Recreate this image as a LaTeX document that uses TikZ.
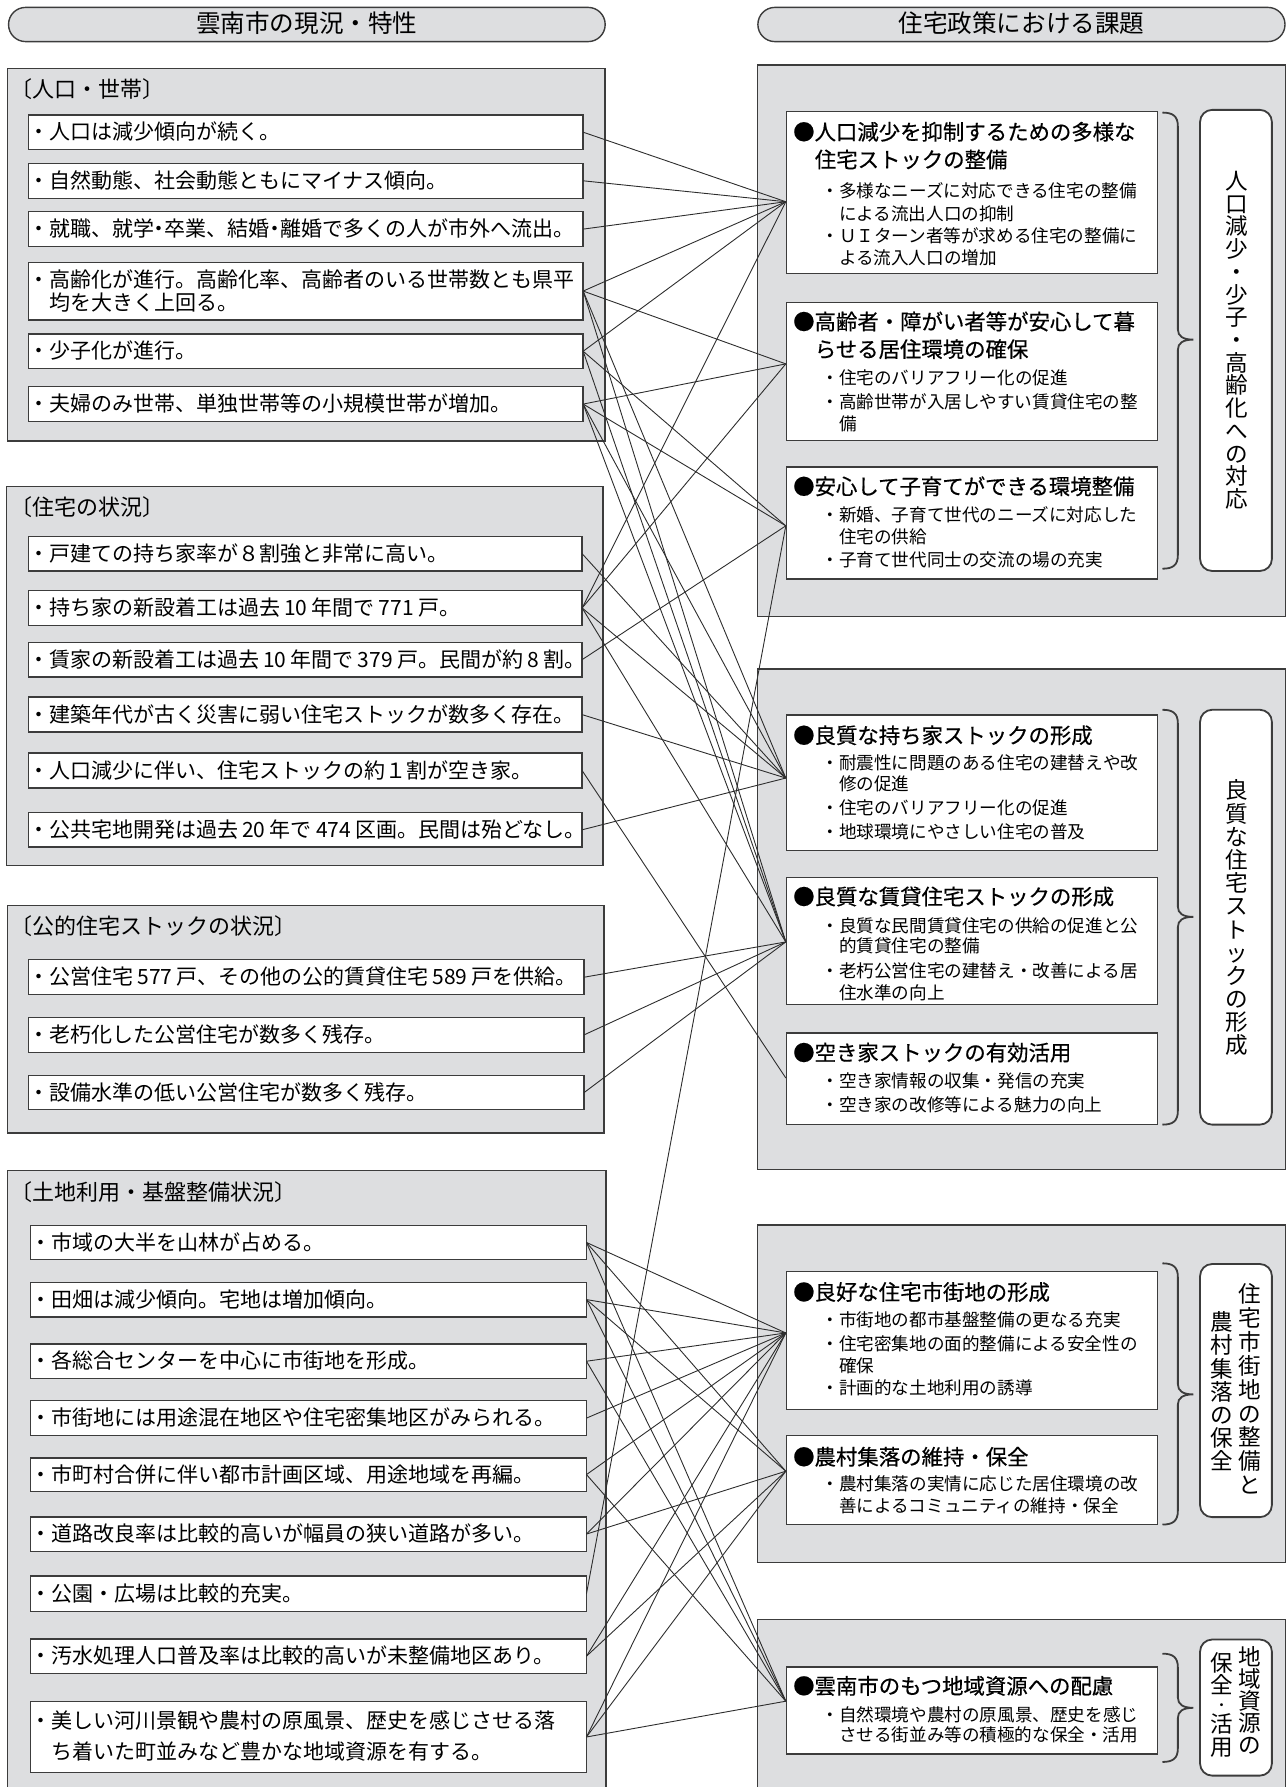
\documentclass[tikz,border=0pt]{standalone}
\usepackage{fontspec}
\setmainfont{Noto Sans CJK JP}
\newfontfamily\tfont[FakeBold=0.5]{Noto Sans CJK JP}
\usetikzlibrary{fit}
\definecolor{gp}{RGB}{221,222,224}
\definecolor{bd}{RGB}{60,60,60}
\definecolor{lc}{RGB}{45,45,45}
\newcommand\ks{\hspace{0.2em}}
\newcommand\hd{\makebox[0.5em][c]{・}}
\tikzset{
  grp/.style={draw=bd, fill=gp, line width=0.7pt, inner sep=0pt, outer sep=0pt},
  wbox/.style={draw=bd, fill=white, line width=0.7pt, inner sep=0pt, outer sep=0pt},
  pill/.style={draw=bd, fill=gp, line width=0.7pt, rounded corners=8.5pt, inner sep=0pt, outer sep=0pt},
  vbox/.style={draw=bd, fill=white, line width=0.9pt, rounded corners=6pt, inner sep=0pt, outer sep=0pt},
  tx/.style={anchor=west, inner sep=0pt, outer sep=0pt, text height=0.88em, text depth=0.12em},
  body/.style={tx, font=\fontsize{10.5}{12}\selectfont},
  lab/.style={tx, font=\fontsize{11}{13}\selectfont},
  ttl/.style={tx, font=\tfont\fontsize{10.7}{13}\selectfont},
  sub/.style={tx, font=\fontsize{8.8}{10}\selectfont},
  hdr/.style={inner sep=0pt, text height=0.88em, text depth=0.12em, font=\fontsize{12.3}{14}\selectfont},
  vch/.style={inner sep=0pt, text height=0.88em, text depth=0.12em, font=\fontsize{11.3}{12}\selectfont},
  vdot/.style={inner sep=0pt, text height=0.6em, text depth=0.1em, font=\fontsize{7}{8}\selectfont},
  con/.style={draw=lc, line width=0.45pt},
  brc/.style={draw=bd, line width=0.9pt},
}
\newcommand\mybrace[3]{\draw[brc] (1020,#1) .. controls (1029,#1) and (1033.5,#1+3) .. (1033.5,#1+12) -- (1033.5,#2-9) .. controls (1033.5,#2-3) and (1038,#2) .. (1047,#2) .. controls (1038,#2) and (1033.5,#2+3) .. (1033.5,#2+9) -- (1033.5,#3-12) .. controls (1033.5,#3-3) and (1029,#3) .. (1020,#3);}
\begin{document}
\begin{tikzpicture}[x=0.57pt,y=-0.57pt]
\useasboundingbox (0,0) rectangle (1129,1568);
\clip (0,0) rectangle (1129,1568);
% headers
\node[pill, fit={(7.5,6.5) (531,36.5)}] (hl) {};
\node[hdr] (hlt) at (hl.center) {雲南市の現況・特性};
\node[pill, fit={(665,6.5) (1127.5,36.5)}] (hr) {};
\node[hdr] (hrt) at (hr.center) {住宅政策における課題};
% ---------- left group 1
\node[grp, fit={(6.5,60) (531,387)}] (G1) {};
\node[lab] (G1l) at (9,79) {〔人口・世帯〕};
\node[wbox, fit={(25,101) (511.7,131)}] (g1a) {};
\node[wbox, fit={(25,143.3) (511.7,174)}] (g1b) {};
\node[wbox, fit={(25,185.7) (511.7,216.4)}] (g1c) {};
\node[wbox, fit={(25,230.1) (511.7,280.7)}] (g1d) {};
\node[wbox, fit={(25,293) (511.7,323.4)}] (g1e) {};
\node[wbox, fit={(25,339.2) (511.7,369.9)}] (g1f) {};
\node[body] (t1a) at (24.75,116) {・人口は減少傾向が続く。};
\node[body] (t1b) at (24.75,158.6) {・自然動態、社会動態ともにマイナス傾向。};
\node[body] (t1c) at (24.75,201) {・就職、就学\hd{}卒業、結婚\hd{}離婚で多くの人が市外へ流出。};
\node[body] (t1d) at (24.75,245.6) {・高齢化が進行。高齢化率、高齢者のいる世帯数とも県平};
\node[body] (t1d2) at (43.25,266) {均を大きく上回る。};
\node[body] (t1e) at (24.75,308.2) {・少子化が進行。};
\node[body] (t1f) at (24.75,354.5) {・夫婦のみ世帯、単独世帯等の小規模世帯が増加。};
% ---------- left group 2
\node[grp, fit={(5.5,427) (529.2,759.4)}] (G2) {};
\node[lab] (G2l) at (9,446) {〔住宅の状況〕};
\node[wbox, fit={(25,470.8) (510.8,500.9)}] (g2a) {};
\node[wbox, fit={(25,518.1) (510.8,548.8)}] (g2b) {};
\node[wbox, fit={(25,563.5) (510.8,594.1)}] (g2c) {};
\node[wbox, fit={(25,611.7) (510.8,642.4)}] (g2d) {};
\node[wbox, fit={(25,660.8) (510.8,691.5)}] (g2e) {};
\node[wbox, fit={(25,712.9) (510.8,743.3)}] (g2f) {};
\node[body] (t2a) at (24.75,485.9) {・戸建ての持ち家率が８割強と非常に高い。};
\node[body] (t2b) at (24.75,533.5) {・持ち家の新設着工は過去\ks{}10\ks{}年間で\ks{}771\ks{}戸。};
\node[body] (t2c) at (24.75,578.8) {・賃家の新設着工は過去\ks{}10\ks{}年間で\ks{}379\ks{}戸。民間が約\ks{}8\ks{}割。};
\node[body] (t2d) at (24.75,627) {・建築年代が古く災害に弱い住宅ストックが数多く存在。};
\node[body] (t2e) at (24.75,676.2) {・人口減少に伴い、住宅ストックの約１割が空き家。};
\node[body] (t2f) at (24.75,728.1) {・公共宅地開発は過去\ks{}20\ks{}年で\ks{}474\ks{}区画。民間は殆どなし。};
% ---------- left group 3
\node[grp, fit={(6.5,794.5) (530,994.2)}] (G3) {};
\node[lab] (G3l) at (9,813) {〔公的住宅ストックの状況〕};
\node[wbox, fit={(25,842.1) (512.5,872.8)}] (g3a) {};
\node[wbox, fit={(25,892.7) (512.5,923.4)}] (g3b) {};
\node[wbox, fit={(25,943.6) (512.5,973.7)}] (g3c) {};
\node[body] (t3a) at (24.75,857.5) {・公営住宅\ks{}577\ks{}戸、その他の公的賃貸住宅\ks{}589\ks{}戸を供給。};
\node[body] (t3b) at (24.75,908) {・老朽化した公営住宅が数多く残存。};
\node[body] (t3c) at (24.75,958.7) {・設備水準の低い公営住宅が数多く残存。};
% ---------- left group 4
\node[grp, fit={(6.5,1027.2) (531.6,1590)}] (G4) {};
\node[lab] (G4l) at (9,1047) {〔土地利用・基盤整備状況〕};
\node[wbox, fit={(27,1075.1) (514.6,1105.3)}] (g4a) {};
\node[wbox, fit={(27,1125.1) (514.6,1155.5)}] (g4b) {};
\node[wbox, fit={(27,1179.2) (514.6,1209.6)}] (g4c) {};
\node[wbox, fit={(27,1229) (514.6,1259.6)}] (g4d) {};
\node[wbox, fit={(27,1279.2) (514.6,1308.5)}] (g4e) {};
\node[wbox, fit={(27,1331) (514.6,1361.1)}] (g4f) {};
\node[wbox, fit={(27,1383) (514.6,1413.8)}] (g4g) {};
\node[wbox, fit={(27,1438) (514.6,1468.4)}] (g4h) {};
\node[wbox, fit={(27,1492.7) (514.6,1555.5)}] (g4i) {};
\node[body] (t4a) at (26.75,1090.2) {・市域の大半を山林が占める。};
\node[body] (t4b) at (26.75,1140.3) {・田畑は減少傾向。宅地は増加傾向。};
\node[body] (t4c) at (26.75,1194.4) {・各総合センターを中心に市街地を形成。};
\node[body] (t4d) at (26.75,1244.3) {・市街地には用途混在地区や住宅密集地区がみられる。};
\node[body] (t4e) at (26.75,1293.9) {・市町村合併に伴い都市計画区域、用途地域を再編。};
\node[body] (t4f) at (26.75,1346) {・道路改良率は比較的高いが幅員の狭い道路が多い。};
\node[body] (t4g) at (26.75,1398.4) {・公園・広場は比較的充実。};
\node[body] (t4h) at (26.75,1453.2) {・汚水処理人口普及率は比較的高いが未整備地区あり。};
\node[body] (t4i) at (26.75,1510) {・美しい河川景観や農村の原風景、歴史を感じさせる落};
\node[body] (t4i2) at (45.25,1537) {ち着いた町並みなど豊かな地域資源を有する。};
% ---------- right group 1
\node[grp, fit={(664.5,57.2) (1128,541)}] (R1) {};
\node[wbox, fit={(690,98.1) (1015.4,239.9)}] (r1a) {};
\node[wbox, fit={(690,265.2) (1015.4,386.6)}] (r1b) {};
\node[wbox, fit={(690,409.8) (1015.4,507.9)}] (r1c) {};
\node[vbox, fit={(1053,96.4) (1116,501)}] (v1) {};
\mybrace{98.8}{298}{499}
\node[ttl] (s1a1) at (696,116.1) {●人口減少を抑制するための多様な};
\node[ttl] (s1a2) at (715,140.4) {住宅ストックの整備};
\node[sub] (s1a3) at (720.8,166.4) {・多様なニーズに対応できる住宅の整備};
\node[sub] (s1a4) at (736.2,186.5) {による流出人口の抑制};
\node[sub] (s1a5) at (720.8,206.3) {・ＵＩターン者等が求める住宅の整備に};
\node[sub] (s1a6) at (736.2,225.4) {よる流入人口の増加};
\node[ttl] (s1b1) at (696,282.6) {●高齢者・障がい者等が安心して暮};
\node[ttl] (s1b2) at (715,306.8) {らせる居住環境の確保};
\node[sub] (s1b3) at (720.8,331.1) {・住宅のバリアフリー化の促進};
\node[sub] (s1b4) at (720.8,351.9) {・高齢世帯が入居しやすい賃貸住宅の整};
\node[sub] (s1b5) at (736.2,371) {備};
\node[ttl] (s1c1) at (696,427.2) {●安心して子育てができる環境整備};
\node[sub] (s1c2) at (720.8,450.7) {・新婚、子育て世代のニーズに対応した};
\node[sub] (s1c3) at (736.2,469.8) {住宅の供給};
\node[sub] (s1c4) at (720.8,490.6) {・子育て世代同士の交流の場の充実};
\foreach \c [count=\i] in {人,口,減,少,・,少,子,・,高,齢,化,へ,の,対,応}
  \node[vch] (v1c\i) at (1085,{159.5+(\i-1)*19.94}) {\c};
% ---------- right group 2
\node[grp, fit={(664.5,587.1) (1128,1026.3)}] (R2) {};
\node[wbox, fit={(690,627.2) (1015.4,746.5)}] (r2a) {};
\node[wbox, fit={(690,769.9) (1015.4,881.6)}] (r2b) {};
\node[wbox, fit={(690,906.4) (1015.4,986.8)}] (r2c) {};
\node[vbox, fit={(1053,622.8) (1116,986.8)}] (v2) {};
\mybrace{622.8}{804.5}{986.8}
\node[ttl] (s2a1) at (696,645.6) {●良質な持ち家ストックの形成};
\node[sub] (s2a2) at (720.8,668.1) {・耐震性に問題のある住宅の建替えや改};
\node[sub] (s2a3) at (736.2,687.1) {修の促進};
\node[sub] (s2a4) at (720.8,707.6) {・住宅のバリアフリー化の促進};
\node[sub] (s2a5) at (720.8,729.5) {・地球環境にやさしい住宅の普及};
\node[ttl] (s2b1) at (696,787.1) {●良質な賃貸住宅ストックの形成};
\node[sub] (s2b2) at (720.8,811.4) {・良質な民間賃貸住宅の供給の促進と公};
\node[sub] (s2b3) at (736.2,829) {的賃貸住宅の整備};
\node[sub] (s2b4) at (720.8,850.9) {・老朽公営住宅の建替え・改善による居};
\node[sub] (s2b5) at (736.2,869.9) {住水準の向上};
\node[ttl] (s2c1) at (696,924) {●空き家ストックの有効活用};
\node[sub] (s2c2) at (720.8,947.4) {・空き家情報の収集・発信の充実};
\node[sub] (s2c3) at (720.8,968.7) {・空き家の改修等による魅力の向上};
\foreach \c [count=\i] in {良,質,な,住,宅,ス,ト,ッ,ク,の,形,成}
  \node[vch] (v2c\i) at (1085,{694.4+(\i-1)*20.34}) {\c};
% ---------- right group 3
\node[grp, fit={(664.5,1075) (1128,1371)}] (R3) {};
\node[wbox, fit={(690,1115.8) (1015.4,1236.6)}] (r3a) {};
\node[wbox, fit={(690,1259.7) (1015.4,1337.7)}] (r3b) {};
\node[vbox, fit={(1053,1109.1) (1116,1331.2)}] (v3) {};
\mybrace{1108.5}{1223.5}{1337.7}
\node[ttl] (s3a1) at (696,1134.1) {●良好な住宅市街地の形成};
\node[sub] (s3a2) at (720.8,1157.1) {・市街地の都市基盤整備の更なる充実};
\node[sub] (s3a3) at (720.8,1178.4) {・住宅密集地の面的整備による安全性の};
\node[sub] (s3a4) at (736.2,1197.2) {確保};
\node[sub] (s3a5) at (720.8,1216.9) {・計画的な土地利用の誘導};
\node[ttl] (s3b1) at (696,1278.7) {●農村集落の維持・保全};
\node[sub] (s3b2) at (720.8,1301.3) {・農村集落の実情に応じた居住環境の改};
\node[sub] (s3b3) at (736.2,1320.4) {善によるコミュニティの維持・保全};
\foreach \c [count=\i] in {住,宅,市,街,地,の,整,備,と}
  \node[vch] (v3r\i) at (1097,{1136.4+(\i-1)*20.95}) {\c};
\foreach \c [count=\i] in {農,村,集,落,の,保,全}
  \node[vch] (v3l\i) at (1072,{1161+(\i-1)*20.3}) {\c};
% ---------- right group 4
\node[grp, fit={(664.5,1421) (1128,1590)}] (R4) {};
\node[wbox, fit={(690,1462.6) (1015.4,1538.9)}] (r4a) {};
\node[vbox, fit={(1053,1438.6) (1116,1558)}] (v4) {};
\mybrace{1451}{1498.5}{1546}
\node[ttl] (s4a1) at (696,1479.7) {●雲南市のもつ地域資源への配慮};
\node[sub] (s4a2) at (720.8,1503.7) {・自然環境や農村の原風景、歴史を感じ};
\node[sub] (s4a3) at (736.2,1521.8) {させる街並み等の積極的な保全・活用};
\foreach \c [count=\i] in {地,域,資,源,の}
  \node[vch] (v4r\i) at (1097,{1455.1+(\i-1)*19.3}) {\c};
\foreach \c/\y [count=\i] in {保/1460,全/1479,活/1513.6,用/1533.5}
  \node[vch] (v4l\i) at (1072,\y) {\c};
\node[vdot] (v4dot) at (1072,1496.3) {・};
% ---------- hubs
\coordinate (h1) at (689.5,177);
\coordinate (h2) at (689.5,319.3);
\coordinate (h3) at (689.5,461.4);
\coordinate (h4) at (689.5,682.7);
\coordinate (h5) at (689.5,826.5);
\coordinate (h6) at (689.5,945.9);
\coordinate (h7) at (689.5,1169.6);
\coordinate (h8) at (689.5,1290.9);
\coordinate (h9) at (689.5,1492.7);
% ---------- connectors
\foreach \a/\b in {g1a/h1,g1b/h1,g1c/h1,g1d/h1,g1e/h1,g2b/h1,
  g1d/h2,g1f/h2,g2b/h2,
  g1e/h3,g1f/h3,g2c/h3,g4g/h3,
  g1d/h4,g1f/h4,g2a/h4,g2b/h4,g2d/h4,g2f/h4,
  g1d/h5,g1e/h5,g1f/h5,g2b/h5,g3a/h5,g3b/h5,g3c/h5,
  g2e/h6,
  g4a/h7,g4b/h7,g4c/h7,g4d/h7,g4e/h7,g4f/h7,g4h/h7,g4i/h7,
  g4a/h8,g4b/h8,g4f/h8,g4h/h8,g4i/h8,
  g4a/h9,g4b/h9,g4c/h9,g4e/h9,g4i/h9}
  \draw[con] (\a.east) -- (\b);
\end{tikzpicture}
\end{document}
